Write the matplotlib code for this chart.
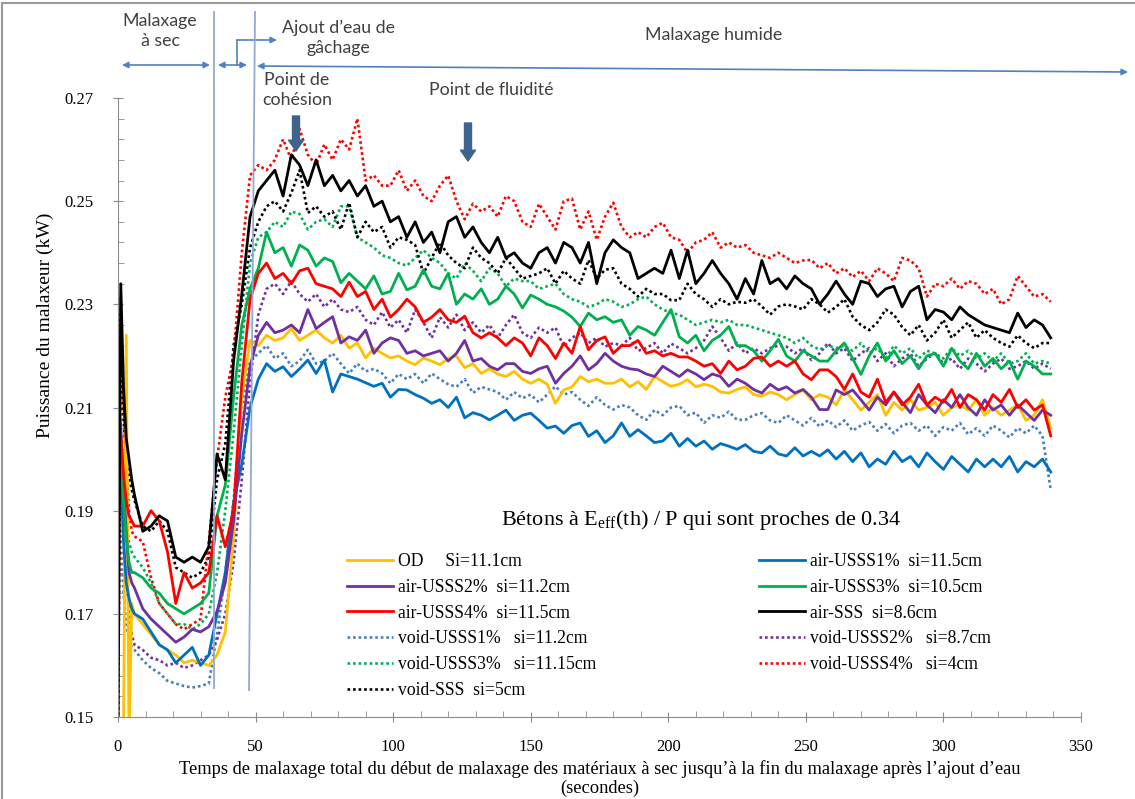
import numpy as np
import matplotlib
matplotlib.use('Agg')
import matplotlib.pyplot as plt
from matplotlib.lines import Line2D
from matplotlib.ticker import FormatStrFormatter

plt.rcParams['font.family'] = ['Liberation Serif', 'DejaVu Serif']
plt.rcParams['mathtext.fontset'] = 'custom'
plt.rcParams['mathtext.rm'] = 'Liberation Serif'

# temps (s) : 1 s au debut puis un point toutes les 3 s jusqu'a 339 s
temps = np.array([0, 1, 2, 3, 4, 5] + list(range(6, 340, 3)))

# puissance du malaxeur (kW)
od = [0.145, 0.145, 0.145, 0.224, 0.145, 0.172, 0.170, 0.168, 0.166, 0.164,
      0.163, 0.162, 0.1605, 0.161, 0.1605, 0.160, 0.162, 0.1665, 0.185, 0.212,
      0.223, 0.222, 0.224, 0.223, 0.2235, 0.2253, 0.223, 0.224, 0.225, 0.2235,
      0.2225, 0.224, 0.2215, 0.2225, 0.2196, 0.2215, 0.2205, 0.2196, 0.220, 0.219,
      0.2183, 0.2196, 0.219, 0.2183, 0.2195, 0.220, 0.2177, 0.2185, 0.2166, 0.2175,
      0.2165, 0.216, 0.217, 0.2155, 0.2147, 0.2155, 0.2145, 0.2108, 0.2134, 0.214,
      0.216, 0.2150, 0.2155, 0.2147, 0.2147, 0.2155, 0.2140, 0.2150, 0.2135, 0.216,
      0.215, 0.2141, 0.2145, 0.2154, 0.2140, 0.2145, 0.2141, 0.213, 0.2128, 0.2135,
      0.214, 0.2125, 0.2122, 0.213, 0.2125, 0.2115, 0.2125, 0.2134, 0.2115, 0.2125,
      0.212, 0.2105, 0.2134, 0.2115, 0.2095, 0.211, 0.2125, 0.2085, 0.211, 0.2095,
      0.2115, 0.2095, 0.210, 0.211, 0.2085, 0.210, 0.2105, 0.2095, 0.2115, 0.2085,
      0.210, 0.2085, 0.2095, 0.2105, 0.2075, 0.2085, 0.2115, 0.206]

air_usss1 = [0.212, 0.198, 0.184, 0.176, 0.173, 0.171, 0.170, 0.169, 0.1665, 0.164,
             0.163, 0.1605, 0.162, 0.1635, 0.160, 0.162, 0.170, 0.178, 0.1915, 0.199,
             0.210, 0.2155, 0.2185, 0.217, 0.2179, 0.216, 0.2175, 0.2192, 0.2166, 0.2192,
             0.213, 0.2165, 0.216, 0.2155, 0.2148, 0.2141, 0.2147, 0.212, 0.2135, 0.2134,
             0.2125, 0.2118, 0.2108, 0.2115, 0.210, 0.212, 0.208, 0.209, 0.2085, 0.2076,
             0.2085, 0.2095, 0.2075, 0.2085, 0.2089, 0.2075, 0.206, 0.2064, 0.205, 0.2065,
             0.2070, 0.2044, 0.2055, 0.2032, 0.2045, 0.207, 0.2044, 0.2057, 0.2045, 0.2032,
             0.2035, 0.205, 0.2025, 0.204, 0.2025, 0.2035, 0.2019, 0.203, 0.2025, 0.2019,
             0.2028, 0.2015, 0.2012, 0.2025, 0.2010, 0.2006, 0.2022, 0.2006, 0.2015, 0.2006,
             0.2018, 0.200, 0.2015, 0.1995, 0.2012, 0.1985, 0.200, 0.199, 0.2015, 0.1995,
             0.2005, 0.1985, 0.2012, 0.1995, 0.198, 0.2005, 0.199, 0.1975, 0.200, 0.1985,
             0.200, 0.1985, 0.2005, 0.1975, 0.1995, 0.1985, 0.200, 0.1975]

air_usss2 = [0.212, 0.206, 0.195, 0.186, 0.178, 0.176, 0.175, 0.171, 0.169, 0.1675,
             0.166, 0.1645, 0.1655, 0.167, 0.1665, 0.1675, 0.1705, 0.176, 0.188, 0.205,
             0.218, 0.224, 0.2265, 0.2245, 0.225, 0.226, 0.2245, 0.229, 0.2253, 0.2265,
             0.2276, 0.2225, 0.2237, 0.223, 0.225, 0.2205, 0.2225, 0.2235, 0.223, 0.2205,
             0.221, 0.220, 0.2205, 0.221, 0.219, 0.2205, 0.223, 0.219, 0.2195, 0.218,
             0.2173, 0.2185, 0.2185, 0.217, 0.2166, 0.2175, 0.218, 0.2147, 0.2166, 0.218,
             0.220, 0.2173, 0.2185, 0.2205, 0.219, 0.218, 0.2175, 0.2173, 0.2165, 0.216,
             0.218, 0.217, 0.216, 0.2173, 0.2165, 0.2154, 0.2165, 0.216, 0.2141, 0.2155,
             0.2147, 0.2135, 0.2128, 0.2145, 0.2134, 0.214, 0.2128, 0.2135, 0.212, 0.2096,
             0.2096, 0.2134, 0.2125, 0.2134, 0.2115, 0.2095, 0.212, 0.2105, 0.213, 0.211,
             0.209, 0.2125, 0.2105, 0.209, 0.2115, 0.210, 0.2125, 0.210, 0.2085, 0.2115,
             0.2095, 0.2105, 0.2085, 0.2105, 0.209, 0.2075, 0.2095, 0.2085]

air_usss3 = [0.205, 0.200, 0.192, 0.185, 0.180, 0.178, 0.178, 0.177, 0.175, 0.174,
             0.172, 0.171, 0.170, 0.171, 0.172, 0.174, 0.189, 0.195, 0.212, 0.226,
             0.233, 0.237, 0.244, 0.240, 0.241, 0.2374, 0.2415, 0.2405, 0.2374, 0.239,
             0.2383, 0.2342, 0.236, 0.2345, 0.233, 0.2355, 0.232, 0.2325, 0.236, 0.2328,
             0.2335, 0.2367, 0.2335, 0.233, 0.236, 0.230, 0.232, 0.231, 0.233, 0.230,
             0.231, 0.2335, 0.232, 0.2293, 0.2318, 0.231, 0.230, 0.2295, 0.2287, 0.2275,
             0.2257, 0.2283, 0.227, 0.2276, 0.2265, 0.227, 0.224, 0.2257, 0.225, 0.224,
             0.2265, 0.229, 0.2237, 0.2225, 0.224, 0.221, 0.223, 0.224, 0.2257, 0.222,
             0.222, 0.221, 0.219, 0.221, 0.2232, 0.220, 0.219, 0.221, 0.220, 0.219,
             0.219, 0.221, 0.2225, 0.2195, 0.2164, 0.220, 0.2225, 0.219, 0.221, 0.2185,
             0.220, 0.2175, 0.220, 0.2205, 0.218, 0.2215, 0.219, 0.2175, 0.2205, 0.218,
             0.2195, 0.2175, 0.219, 0.2155, 0.219, 0.218, 0.2165, 0.2165]

air_usss4 = [0.210, 0.205, 0.197, 0.192, 0.189, 0.188, 0.187, 0.187, 0.190, 0.188,
             0.182, 0.172, 0.178, 0.175, 0.176, 0.178, 0.189, 0.183, 0.190, 0.215,
             0.231, 0.236, 0.238, 0.235, 0.236, 0.234, 0.2365, 0.237, 0.234, 0.2335,
             0.233, 0.2315, 0.2343, 0.2315, 0.2325, 0.229, 0.231, 0.2275, 0.229, 0.231,
             0.2295, 0.2265, 0.2275, 0.229, 0.227, 0.2265, 0.2277, 0.2245, 0.2235, 0.2245,
             0.2235, 0.222, 0.2235, 0.2225, 0.220, 0.2235, 0.222, 0.2195, 0.2225, 0.2205,
             0.2257, 0.2212, 0.223, 0.2237, 0.2205, 0.222, 0.222, 0.223, 0.2205, 0.221,
             0.220, 0.2205, 0.2198, 0.2198, 0.219, 0.218, 0.2185, 0.2166, 0.219, 0.2173,
             0.218, 0.2195, 0.2198, 0.218, 0.219, 0.218, 0.219, 0.2165, 0.2154, 0.2173,
             0.2173, 0.216, 0.2135, 0.2165, 0.213, 0.212, 0.2155, 0.211, 0.213, 0.2105,
             0.212, 0.2145, 0.2105, 0.212, 0.211, 0.2135, 0.210, 0.2125, 0.2115, 0.2095,
             0.2125, 0.211, 0.2135, 0.210, 0.2115, 0.2095, 0.2105, 0.2045]

air_sss = [0.145, 0.234, 0.214, 0.204, 0.200, 0.196, 0.193, 0.186, 0.187, 0.189,
           0.188, 0.181, 0.180, 0.181, 0.180, 0.183, 0.201, 0.196, 0.219, 0.232,
           0.247, 0.252, 0.254, 0.256, 0.251, 0.259, 0.257, 0.253, 0.258, 0.253,
           0.255, 0.252, 0.254, 0.251, 0.253, 0.249, 0.250, 0.246, 0.247, 0.243,
           0.246, 0.242, 0.244, 0.240, 0.246, 0.247, 0.243, 0.245, 0.242, 0.240,
           0.243, 0.239, 0.240, 0.238, 0.237, 0.240, 0.241, 0.238, 0.242, 0.241,
           0.238, 0.242, 0.234, 0.240, 0.2425, 0.241, 0.240, 0.235, 0.236, 0.237,
           0.236, 0.2405, 0.235, 0.2405, 0.234, 0.236, 0.2385, 0.236, 0.234, 0.231,
           0.235, 0.232, 0.2385, 0.234, 0.235, 0.233, 0.2355, 0.234, 0.233, 0.230,
           0.232, 0.2345, 0.232, 0.230, 0.2345, 0.234, 0.2315, 0.233, 0.2335, 0.2295,
           0.2325, 0.2335, 0.227, 0.229, 0.2285, 0.227, 0.2295, 0.228, 0.227, 0.226,
           0.2255, 0.225, 0.2245, 0.2283, 0.2255, 0.227, 0.226, 0.2235]

void_usss1 = [0.196, 0.184, 0.174, 0.168, 0.165, 0.1635, 0.163, 0.161, 0.1595, 0.1585,
              0.157, 0.1565, 0.156, 0.1557, 0.156, 0.1565, 0.166, 0.178, 0.192, 0.210,
              0.219, 0.2205, 0.222, 0.2195, 0.2205, 0.218, 0.219, 0.2212, 0.2185, 0.219,
              0.2205, 0.2185, 0.2166, 0.2185, 0.217, 0.2175, 0.2166, 0.2147, 0.2165, 0.2155,
              0.2165, 0.2147, 0.2166, 0.2155, 0.2145, 0.214, 0.2155, 0.2128, 0.214, 0.2135,
              0.213, 0.2115, 0.213, 0.2118, 0.2125, 0.211, 0.2125, 0.2141, 0.2125, 0.213,
              0.2115, 0.2103, 0.212, 0.2105, 0.2096, 0.2105, 0.210, 0.2085, 0.2076, 0.2095,
              0.2085, 0.210, 0.2103, 0.2085, 0.209, 0.2070, 0.2085, 0.208, 0.2092, 0.2076,
              0.2076, 0.2085, 0.2089, 0.2075, 0.207, 0.2085, 0.2075, 0.2065, 0.208, 0.2063,
              0.2075, 0.2062, 0.2075, 0.2055, 0.2065, 0.2072, 0.2055, 0.2068, 0.205, 0.2065,
              0.2070, 0.2055, 0.2065, 0.2045, 0.2062, 0.2055, 0.2070, 0.2048, 0.206, 0.2045,
              0.2065, 0.2055, 0.2042, 0.206, 0.205, 0.2065, 0.2045, 0.194]

void_usss2 = [0.205, 0.195, 0.186, 0.178, 0.170, 0.166, 0.164, 0.163, 0.1615, 0.161,
              0.160, 0.1605, 0.1595, 0.160, 0.161, 0.162, 0.165, 0.170, 0.180, 0.196,
              0.215, 0.228, 0.233, 0.234, 0.232, 0.2345, 0.232, 0.2305, 0.232, 0.2295,
              0.231, 0.229, 0.2285, 0.2295, 0.227, 0.226, 0.2285, 0.2255, 0.227, 0.2245,
              0.229, 0.2265, 0.2235, 0.2275, 0.2255, 0.228, 0.225, 0.2265, 0.2245, 0.226,
              0.2235, 0.226, 0.228, 0.2245, 0.2235, 0.2255, 0.2245, 0.2255, 0.2218, 0.2235,
              0.2245, 0.2225, 0.2235, 0.2218, 0.2225, 0.222, 0.2235, 0.221, 0.2215, 0.2225,
              0.2205, 0.2224, 0.2215, 0.2205, 0.2215, 0.2230, 0.2257, 0.2235, 0.221, 0.2225,
              0.2205, 0.2215, 0.2205, 0.2215, 0.222, 0.2218, 0.2205, 0.2215, 0.2192, 0.2205,
              0.2225, 0.2205, 0.2215, 0.219, 0.2205, 0.2215, 0.219, 0.2205, 0.218, 0.2195,
              0.2205, 0.218, 0.2195, 0.2205, 0.2185, 0.2195, 0.2175, 0.2195, 0.2185, 0.217,
              0.2185, 0.2195, 0.2175, 0.218, 0.219, 0.2175, 0.2185, 0.2175]

void_usss3 = [0.210, 0.205, 0.196, 0.188, 0.184, 0.182, 0.181, 0.179, 0.176, 0.172,
              0.170, 0.168, 0.168, 0.167, 0.168, 0.170, 0.178, 0.190, 0.205, 0.222,
              0.238, 0.243, 0.244, 0.246, 0.245, 0.248, 0.2475, 0.2445, 0.246, 0.2465,
              0.245, 0.249, 0.249, 0.243, 0.242, 0.241, 0.2395, 0.239, 0.238, 0.2375,
              0.239, 0.2405, 0.239, 0.238, 0.236, 0.235, 0.238, 0.2365, 0.2345, 0.237,
              0.236, 0.2335, 0.235, 0.2345, 0.2345, 0.233, 0.2335, 0.234, 0.232, 0.231,
              0.2305, 0.2295, 0.230, 0.231, 0.2305, 0.2295, 0.230, 0.231, 0.2315, 0.230,
              0.229, 0.2283, 0.228, 0.227, 0.226, 0.2265, 0.227, 0.2265, 0.227, 0.226,
              0.226, 0.2255, 0.225, 0.2245, 0.224, 0.2235, 0.2225, 0.2235, 0.222, 0.2212,
              0.222, 0.2215, 0.222, 0.221, 0.2225, 0.2205, 0.2215, 0.2195, 0.222, 0.2205,
              0.2215, 0.2195, 0.221, 0.2205, 0.2195, 0.2215, 0.220, 0.221, 0.2195, 0.2205,
              0.219, 0.2205, 0.2185, 0.219, 0.2205, 0.2185, 0.219, 0.2185]

void_usss4 = [0.145, 0.2315, 0.212, 0.198, 0.190, 0.186, 0.185, 0.184, 0.177, 0.172,
              0.170, 0.168, 0.167, 0.168, 0.169, 0.184, 0.200, 0.212, 0.220, 0.240,
              0.255, 0.257, 0.256, 0.258, 0.262, 0.258, 0.264, 0.259, 0.257, 0.261,
              0.258, 0.262, 0.260, 0.266, 0.254, 0.255, 0.253, 0.253, 0.256, 0.252,
              0.254, 0.251, 0.250, 0.253, 0.255, 0.250, 0.2465, 0.2495, 0.248, 0.249,
              0.247, 0.251, 0.250, 0.246, 0.245, 0.2495, 0.247, 0.2445, 0.250, 0.2505,
              0.2445, 0.248, 0.2425, 0.247, 0.2497, 0.245, 0.243, 0.244, 0.243, 0.245,
              0.2458, 0.243, 0.2425, 0.240, 0.242, 0.2425, 0.244, 0.241, 0.242, 0.241,
              0.2415, 0.240, 0.2395, 0.239, 0.240, 0.239, 0.238, 0.2385, 0.2386, 0.237,
              0.238, 0.236, 0.237, 0.2353, 0.2365, 0.2345, 0.237, 0.236, 0.2345, 0.239,
              0.2385, 0.237, 0.2315, 0.234, 0.2335, 0.235, 0.233, 0.2345, 0.234, 0.232,
              0.233, 0.230, 0.231, 0.2355, 0.2335, 0.2315, 0.232, 0.2305]

void_sss = [0.145, 0.228, 0.208, 0.200, 0.197, 0.194, 0.192, 0.187, 0.186, 0.188,
            0.186, 0.179, 0.178, 0.177, 0.178, 0.181, 0.196, 0.203, 0.222, 0.230,
            0.241, 0.246, 0.249, 0.250, 0.248, 0.2516, 0.256, 0.2477, 0.249, 0.247,
            0.248, 0.2445, 0.2497, 0.243, 0.246, 0.244, 0.245, 0.241, 0.243, 0.2425,
            0.2415, 0.236, 0.239, 0.242, 0.2395, 0.238, 0.237, 0.241, 0.239, 0.238,
            0.236, 0.239, 0.237, 0.235, 0.2355, 0.236, 0.237, 0.234, 0.2365, 0.235,
            0.234, 0.2386, 0.235, 0.2367, 0.237, 0.234, 0.233, 0.2315, 0.233, 0.232,
            0.232, 0.2308, 0.2308, 0.234, 0.232, 0.231, 0.2295, 0.231, 0.230, 0.2305,
            0.2303, 0.231, 0.2296, 0.228, 0.2296, 0.230, 0.2296, 0.229, 0.231, 0.230,
            0.2284, 0.2295, 0.231, 0.2276, 0.226, 0.225, 0.2265, 0.229, 0.228, 0.2256,
            0.224, 0.226, 0.223, 0.2245, 0.227, 0.2235, 0.225, 0.2265, 0.2235, 0.225,
            0.2235, 0.2225, 0.2218, 0.224, 0.2225, 0.2215, 0.2225, 0.2225]

etiquettes = {
    'od': 'OD     Si=11.1cm',
    'air1': 'air-USSS1%  si=11.5cm',
    'air2': 'air-USSS2%  si=11.2cm',
    'air3': 'air-USSS3%  si=10.5cm',
    'air4': 'air-USSS4%  si=11.5cm',
    'airsss': 'air-SSS  si=8.6cm',
    'void1': 'void-USSS1%   si=11.2cm',
    'void2': 'void-USSS2%   si=8.7cm',
    'void3': 'void-USSS3%   si=11.15cm',
    'void4': 'void-USSS4%   si=4cm',
    'voidsss': 'void-SSS  si=5cm',
}
graduations_y = [0.15, 0.17, 0.19, 0.21, 0.23, 0.25, 0.27]

W, H = 1135, 799
fig = plt.figure(figsize=(W / 100, H / 100), dpi=100)
ax = fig.add_axes([118 / W, 1 - 717 / H, (1081 - 118) / W, (717 - 98) / H])


def fp(x, y):
    # pixels de l'image (origine en haut a gauche) -> fraction de la figure
    return (x / W, 1 - y / H)


pointille = (0, (1, 1.1))
courbes = [
    ('void1', void_usss1, '#4A7EBB', pointille),
    ('void2', void_usss2, '#7030A0', pointille),
    ('void3', void_usss3, '#00B050', pointille),
    ('voidsss', void_sss, 'black', pointille),
    ('void4', void_usss4, '#FF0000', pointille),
    ('od', od, '#FFC000', '-'),
    ('air1', air_usss1, '#0070C0', '-'),
    ('air2', air_usss2, '#7030A0', '-'),
    ('air3', air_usss3, '#00B050', '-'),
    ('air4', air_usss4, '#FF0000', '-'),
    ('airsss', air_sss, 'black', '-'),
]
lignes = {}
for cle, y, c, ls in courbes:
    lw = 2.0 if ls == '-' else 1.9
    l, = ax.plot(temps, y, color=c, ls=ls, lw=lw, label=etiquettes[cle])
    lignes[cle] = l

ax.set_xlim(0, 350)
ax.set_ylim(0.15, 0.27)
ax.set_xticks(np.arange(0, 351, 50))
ax.set_xticks(np.arange(0, 351, 10), minor=True)
ax.set_yticks(graduations_y)
ax.set_yticks(np.arange(0.15, 0.2701, 0.004), minor=True)
ax.yaxis.set_major_formatter(FormatStrFormatter('%.2f'))
for s in ['top', 'right']:
    ax.spines[s].set_visible(False)
for s in ['left', 'bottom']:
    ax.spines[s].set_color('#8c8c8c')
ax.tick_params(which='major', direction='inout', length=7, color='#8c8c8c', labelsize=12)
ax.tick_params(which='minor', direction='in', length=4, color='#8c8c8c')
ax.tick_params(axis='y', which='major', pad=14)
ax.tick_params(axis='x', which='major', pad=12)

fig.text(*fp(600, 760), 'Temps de malaxage total du début de malaxage des matériaux à sec jusqu’à la fin '
         'du malaxage après l’ajout d’eau\n(secondes)', ha='center', va='top', fontsize=13.3,
         linespacing=1.1)
fig.text(*fp(45, 325), 'Puissance du malaxeur (kW)', rotation=90, ha='center', va='center',
         fontsize=14)

# legende en deux colonnes
gauche = ['od', 'air2', 'air4', 'void1', 'void3', 'voidsss']
droite = ['air1', 'air3', 'airsss', 'void2', 'void4']
for cles, x0 in [(gauche, 347), (droite, 759)]:
    fig.legend(handles=[lignes[k] for k in cles], loc='upper left',
               bbox_to_anchor=fp(x0, 553), frameon=False, fontsize=12.7,
               handlelength=2.6, handletextpad=0.3, labelspacing=0.5,
               borderpad=0, borderaxespad=0)
fig.text(*fp(701, 520), 'Bétons à E$_{\\mathrm{eff}}$(th) / P qui sont proches de 0.34',
         ha='center', va='center', fontsize=16)

# phases de malaxage
bleu = '#4F81BD'
sans = ['Lato', 'DejaVu Sans']
txt = dict(ha='center', va='center', family=sans, fontsize=12.8, color='#404040', linespacing=1.3)
fig.text(*fp(160, 31), 'Malaxage\nà sec', **txt)
fig.text(*fp(338, 38), 'Ajout d’eau de\ngâchage', **txt)
fig.text(*fp(297, 90), 'Point de\ncohésion', **txt)
fig.text(*fp(491, 90), 'Point de fluidité', **txt)
fig.text(*fp(714, 35), 'Malaxage humide', **txt)

fig.add_artist(Line2D([214 / W, 214 / W], [1 - 12 / H, 1 - 688 / H], color='#93A9CF', lw=1.3))
fig.add_artist(Line2D([255 / W, 249 / W], [1 - 12 / H, 1 - 690 / H], color='#93A9CF', lw=1.3))


def fleche(p0, p1, style):
    ax.annotate('', xy=fp(*p1), xytext=fp(*p0), xycoords='figure fraction',
                textcoords='figure fraction', annotation_clip=False,
                arrowprops=dict(arrowstyle=style, color=bleu, lw=1.2, shrinkA=0, shrinkB=0,
                                mutation_scale=9))


fleche((122, 65), (210, 65), '<|-|>')
fleche((218, 65), (247, 65), '<|-|>')
fleche((257, 66), (1128, 72), '<|-|>')
fig.add_artist(Line2D([237 / W, 237 / W], [1 - 65 / H, 1 - 40 / H], color=bleu, lw=1.2))
fleche((237, 40), (277, 40), '-|>')

# points de cohesion et de fluidite
for x, y0, y1 in [(296, 116, 151), (468, 123, 161)]:
    ax.annotate('', xy=fp(x, y1), xytext=fp(x, y0), xycoords='figure fraction',
                textcoords='figure fraction', annotation_clip=False,
                arrowprops=dict(arrowstyle='simple,head_width=0.9,head_length=0.65,tail_width=0.42',
                                color='#3F648C', shrinkA=0, shrinkB=0, mutation_scale=12))

# cadre de l'image
fig.add_artist(Line2D([2 / W, 1], [1 - 3 / H, 1 - 3 / H], color='#9a9a9a', lw=1.5))
fig.add_artist(Line2D([2 / W, 2 / W], [1 - 3 / H, 0], color='#9a9a9a', lw=1.5))

fig.savefig('out.png', dpi=100)
